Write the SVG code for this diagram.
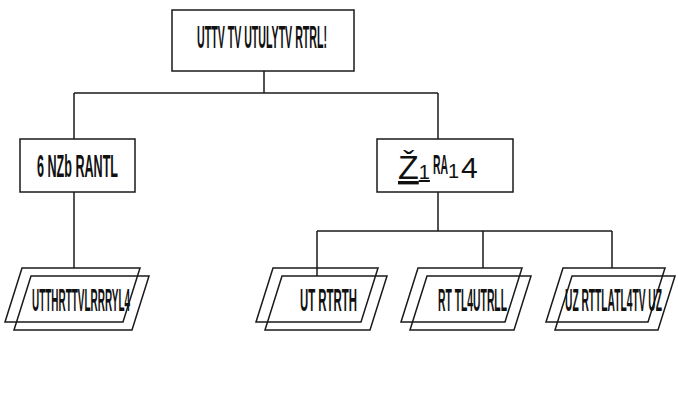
<svg xmlns="http://www.w3.org/2000/svg" width="678" height="405" viewBox="0 0 678 405">
<style>
.box{fill:#fff;stroke:#1a1a1a;stroke-width:1.5}
.par{fill:none;stroke:#1a1a1a;stroke-width:1.5}
.edge{fill:none;stroke:#1a1a1a;stroke-width:1.5}
.t{font-family:"Liberation Sans",Arial,sans-serif;font-size:32px;font-weight:bold;fill:#111;text-anchor:start}
</style>
<rect width="678" height="405" fill="#fff"/>
<g id="connectors">
<path class="edge" d="M264,71 V93 M74,93 H438 M74,93 V139 M438,93 V139"/>
<path class="edge" d="M74,192 V268"/>
<path class="edge" d="M438,192 V231 M317,231 H612 M317,231 V276 M483,231 V268 M612,231 V268"/>
</g>
<g id="root">
<rect class="box" x="172" y="10" width="182" height="61"/>
<text class="t" x="197" y="48" textLength="130" lengthAdjust="spacingAndGlyphs">UTTV TV UTULYTV RTRL!</text>
</g>
<g id="left">
<rect class="box" x="20" y="139" width="115" height="53"/>
<text class="t" x="37" y="177" textLength="81" lengthAdjust="spacingAndGlyphs">6 NZb RANTL</text>
</g>
<g id="right">
<rect class="box" x="377" y="139" width="136" height="53"/>
<text x="398" y="179" font-family="Liberation Sans, Arial, sans-serif" fill="#111"><tspan font-size="34" text-decoration="underline">Ž<tspan font-size="20">1</tspan></tspan><tspan x="433" y="174" font-size="28" font-weight="bold" textLength="15" lengthAdjust="spacingAndGlyphs">RA</tspan><tspan x="448" y="178" font-size="20">1</tspan><tspan x="461" y="178" font-size="30">4</tspan></text>
</g>
<g id="leaf1">
<polygon class="par" points="22,268 140,268 123,322 5,322"/>
<polygon class="par" points="31,276 149,276 132,330 14,330"/>
<text class="t" x="32" y="311" textLength="98" lengthAdjust="spacingAndGlyphs">UTTHRTTVLRRRYL4</text>
</g>
<g id="leaf2">
<polygon class="par" points="273,268 378,268 361,322 256,322"/>
<polygon class="par" points="282,276 387,276 370,330 265,330"/>
<text class="t" x="300" y="311" textLength="57" lengthAdjust="spacingAndGlyphs">UT RTRTH</text>
</g>
<g id="leaf3">
<polygon class="par" points="418,268 522,268 505,322 401,322"/>
<polygon class="par" points="427,276 531,276 514,330 410,330"/>
<text class="t" x="438" y="311" textLength="69" lengthAdjust="spacingAndGlyphs">RT TL4UTRLL</text>
</g>
<g id="leaf4">
<polygon class="par" points="563,268 665,268 648,322 546,322"/>
<polygon class="par" points="572,276 675,276 658,330 555,330"/>
<text class="t" x="565" y="311" textLength="97" lengthAdjust="spacingAndGlyphs">UZ RTTLATL4TV UZ</text>
</g>
</svg>
